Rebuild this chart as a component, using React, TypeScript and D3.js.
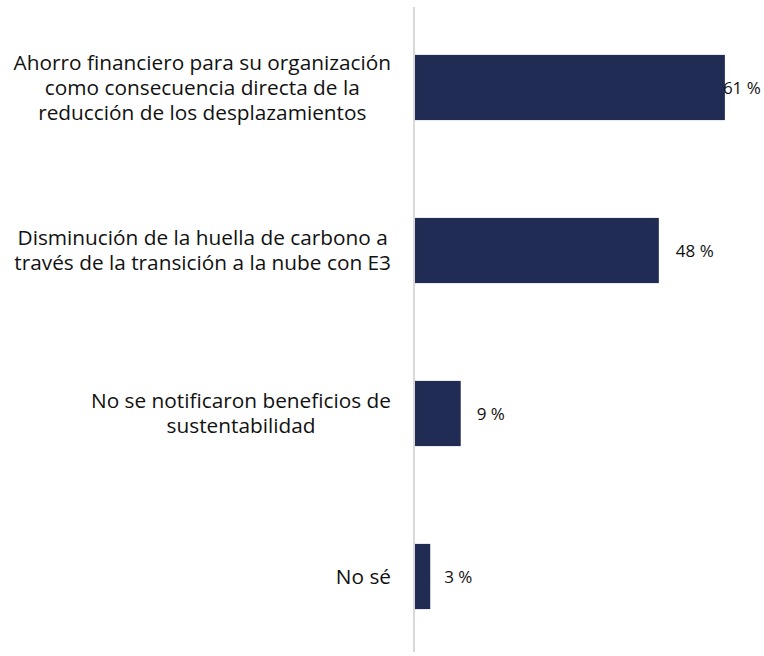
import { useEffect, useRef } from "react";
import * as d3 from "d3";

// categories (already wrapped into lines as in the picture)
const categories = [
  ["Ahorro financiero para su organización", "como consecuencia directa de la", "reducción de los desplazamientos"],
  ["Disminución de la huella de carbono a", "través de la transición a la nube con E3"],
  ["No se notificaron beneficios de", "sustentabilidad"],
  ["No sé"],
];
const values = [61, 48, 9, 3];
const valueLabels = ["61 %", "48 %", "9 %", "3 %"];
// small horizontal nudges of the data labels, as placed in the original
const labelNudge = [-2, 17, 16, 14];

const width = 764;
const height = 656;
const barColor = "#202c54";
const font = "'Open Sans', sans-serif";

const App = () => {
  const svgRef = useRef(null);

  useEffect(() => {
    const svg = d3.select(svgRef.current);
    svg.selectAll("*").remove();

    const x = d3.scaleLinear().domain([0, 100]).range([415, 923]);
    const y = d3
      .scaleBand()
      .domain(values.map((_, i) => String(i)))
      .range([6, 658])
      .paddingInner(0.6)
      .paddingOuter(0.3);

    // bars
    svg
      .selectAll("rect.bar")
      .data(values)
      .enter()
      .append("rect")
      .attr("class", "bar")
      .attr("x", x(0))
      .attr("y", (d, i) => y(String(i)))
      .attr("width", (d) => x(d) - x(0))
      .attr("height", y.bandwidth())
      .attr("fill", barColor);

    // vertical axis line
    svg
      .append("line")
      .attr("x1", x(0) - 1)
      .attr("x2", x(0) - 1)
      .attr("y1", 7)
      .attr("y2", 652)
      .attr("stroke", "#d9d9d9")
      .attr("stroke-width", 2);

    // value labels
    svg
      .selectAll("text.value")
      .data(values)
      .enter()
      .append("text")
      .attr("class", "value")
      .attr("x", (d, i) => x(d) + labelNudge[i])
      .attr("y", (d, i) => y(String(i)) + y.bandwidth() / 2)
      .attr("dy", "0.36em")
      .attr("font-family", font)
      .attr("font-size", 17)
      .attr("fill", "#111")
      .text((d, i) => valueLabels[i]);

    // category labels: lines centred inside a box whose right edge sits by the axis
    const lineH = 25;
    const rightEdge = 391;
    const groups = svg
      .selectAll("text.cat")
      .data(categories)
      .enter()
      .append("text")
      .attr("class", "cat")
      .attr("text-anchor", "middle")
      .attr("font-family", font)
      .attr("font-size", 20.8)
      .attr("fill", "#111");

    groups
      .selectAll("tspan")
      .data((lines, i) =>
        lines.map((l, j) => ({
          text: l,
          y: y(String(i)) + y.bandwidth() / 2 + (j - (lines.length - 1) / 2) * lineH,
        }))
      )
      .enter()
      .append("tspan")
      .attr("y", (d) => d.y)
      .attr("dy", "0.36em")
      .text((d) => d.text);

    groups.each(function () {
      const tspans = d3.select(this).selectAll("tspan");
      let maxW = 0;
      tspans.each(function () {
        maxW = Math.max(maxW, (this as SVGTSpanElement).getComputedTextLength());
      });
      tspans.attr("x", rightEdge - maxW / 2);
    });
  }, []);

  return (
    <svg
      ref={svgRef}
      width={width}
      height={height}
      style={{ position: "absolute", left: 0, top: 0, background: "#fff" }}
    ></svg>
  );
};

export default App;
